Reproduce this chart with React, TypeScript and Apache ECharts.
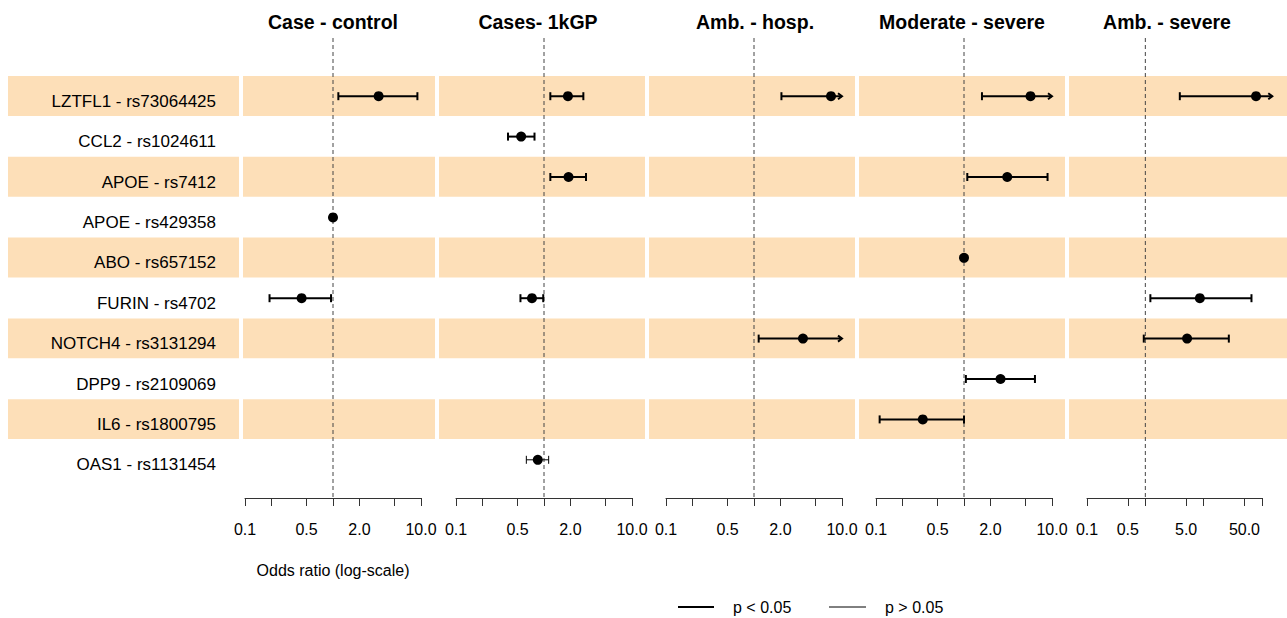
import React, { useEffect, useRef } from "react";
import * as echarts from "echarts";

// ---------- data ----------
const rowLabels = [
  "LZTFL1 - rs73064425",
  "CCL2 - rs1024611",
  "APOE - rs7412",
  "APOE - rs429358",
  "ABO - rs657152",
  "FURIN - rs4702",
  "NOTCH4 - rs3131294",
  "DPP9 - rs2109069",
  "IL6 - rs1800795",
  "OAS1 - rs1131454",
];

const panelTitles = ["Case - control", "Cases- 1kGP", "Amb. - hosp.", "Moderate - severe", "Amb. - severe"];

// Case - control
const orCaseControl = [3.3, null, null, 1.0, null, 0.44, null, null, null, null];
const lowCaseControl = [1.15, null, null, 0.98, null, 0.19, null, null, null, null];
const highCaseControl = [9.1, null, null, 1.02, null, 0.95, null, null, null, null];
const sigCaseControl = [true, null, null, true, null, true, null, null, null, null];

// Cases - 1kGP
const orCases1kGP = [1.87, 0.55, 1.9, null, null, 0.73, null, null, null, 0.85];
const lowCases1kGP = [1.18, 0.39, 1.18, null, null, 0.54, null, null, null, 0.63];
const highCases1kGP = [2.8, 0.78, 3.0, null, null, 0.98, null, null, null, 1.13];
const sigCases1kGP = [true, true, true, null, null, true, null, null, null, false];

// Amb. - hosp.
const orAmbHosp = [7.5, null, null, null, null, null, 3.6, null, null, null];
const lowAmbHosp = [2.05, null, null, null, null, null, 1.13, null, null, null];
const highAmbHosp = [30, null, null, null, null, null, 12, null, null, null];
const sigAmbHosp = [true, null, null, null, null, null, true, null, null, null];

// Moderate - severe
const orModSevere = [5.7, null, 3.1, null, 1.0, null, null, 2.6, 0.34, null];
const lowModSevere = [1.6, null, 1.09, null, 0.98, null, null, 1.05, 0.11, null];
const highModSevere = [20, null, 8.9, null, 1.02, null, null, 6.4, 1.0, null];
const sigModSevere = [true, null, true, null, true, null, null, true, true, null];

// Amb. - severe
const orAmbSevere = [79, null, null, null, null, 8.6, 5.2, null, null, null];
const lowAmbSevere = [3.9, null, null, null, null, 1.22, 0.94, null, null, null];
const highAmbSevere = [800, null, null, null, null, 66, 27, null, null, null];
const sigAmbSevere = [true, null, null, null, null, true, true, null, null, null];

// axis ticks / labels
const ticksNarrow = [0.1, 0.2, 0.5, 1, 2, 5, 10];
const tickLabelsNarrow = [0.1, 0.5, 2, 10];
const ticksWide = [0.1, 0.5, 1, 5, 10, 50, 100];
const tickLabelsWide = [0.1, 0.5, 5, 50];

const axisMaxes = [10, 10, 10, 10, 100];
const clipMaxes = [10, 10, 10, 10, 150];

const legendLabels = ["p < 0.05", "p > 0.05"];
const xAxisTitle = "Odds ratio (log-scale)";

// ---------- layout ----------
const FONT = "'Liberation Sans', Arial, Helvetica, sans-serif";
const BAND = "#FDDFB8";
const PANEL_LEFT = [245, 456, 666, 876, 1087];
const PANEL_WIDTH = [176, 176, 176, 176, 175];
const BAND_PAD_L = [2, 17, 17, 17, 18];
const BAND_PAD_R = [14, 13, 13, 13, 25];
const TITLE_X = [333, 538, 755, 962, 1167];
const GRID_TOP = 76;
const GRID_H = 404;

const panels = [
  { or: orCaseControl, lo: lowCaseControl, hi: highCaseControl, sig: sigCaseControl, ticks: ticksNarrow, labels: tickLabelsNarrow },
  { or: orCases1kGP, lo: lowCases1kGP, hi: highCases1kGP, sig: sigCases1kGP, ticks: ticksNarrow, labels: tickLabelsNarrow },
  { or: orAmbHosp, lo: lowAmbHosp, hi: highAmbHosp, sig: sigAmbHosp, ticks: ticksNarrow, labels: tickLabelsNarrow },
  { or: orModSevere, lo: lowModSevere, hi: highModSevere, sig: sigModSevere, ticks: ticksNarrow, labels: tickLabelsNarrow },
  { or: orAmbSevere, lo: lowAmbSevere, hi: highAmbSevere, sig: sigAmbSevere, ticks: ticksWide, labels: tickLabelsWide },
];

function buildOption() {
  const grids: any[] = [];
  const xAxes: any[] = [];
  const yAxes: any[] = [];
  const series: any[] = [];
  const nRows = rowLabels.length;

  panels.forEach((p, i) => {
    grids.push({
      left: PANEL_LEFT[i],
      top: GRID_TOP,
      width: PANEL_WIDTH[i],
      height: GRID_H,
      containLabel: false,
      outerBoundsMode: "none",
    });
    xAxes.push({
      gridIndex: i,
      type: "log",
      logBase: 10,
      min: 0.1,
      max: axisMaxes[i],
      position: "bottom",
      offset: 18,
      splitLine: { show: false },
      minorTick: { show: false },
      axisLine: { show: true, onZero: false, lineStyle: { color: "#333", width: 1 } },
      axisTick: { show: true, customValues: p.ticks, length: 8, lineStyle: { color: "#333", width: 1 } },
      axisLabel: {
        customValues: p.labels,
        formatter: (v: any) => Number(v).toFixed(1),
        fontSize: 16,
        color: "#000",
        margin: 23,
        fontFamily: FONT,
        hideOverlap: false,
      },
      name: i === 0 ? xAxisTitle : "",
      nameLocation: "middle",
      nameGap: 64,
      nameTextStyle: { fontSize: 16, color: "#000", fontFamily: FONT },
    });
    yAxes.push({
      gridIndex: i,
      type: "category",
      data: rowLabels,
      inverse: true,
      z: 10,
      axisLine: { show: false },
      axisTick: { show: false },
      splitLine: { show: false },
      axisLabel:
        i === 0
          ? {
              show: true,
              interval: 0,
              margin: 29,
              fontSize: 17,
              color: "#000",
              fontFamily: FONT,
              formatter: (v: string) => `{a|${v}}`,
              rich: { a: { fontSize: 17, color: "#000", fontFamily: FONT, padding: [10, 0, 0, 0] } },
            }
          : { show: false },
    });

    const padL = BAND_PAD_L[i];
    const padR = BAND_PAD_R[i];
    const withLabelBand = i === 0;
    // shaded row bands
    series.push({
      type: "custom",
      xAxisIndex: i,
      yAxisIndex: i,
      silent: true,
      z: 1,
      data: rowLabels.map((_, r) => [1, r]).filter((d) => d[1] % 2 === 0),
      renderItem: (params: any, api: any) => {
        const cs = params.coordSys;
        const row = api.value(1);
        const c = api.coord([1, row]);
        const h = cs.height / nRows;
        const y = c[1] - h / 2;
        const children: any[] = [
          { type: "rect", shape: { x: cs.x - padL, y, width: cs.width + padL + padR, height: h - 0.5 }, style: { fill: BAND } },
        ];
        if (withLabelBand) {
          children.push({ type: "rect", shape: { x: cs.x - 237, y, width: 231, height: h - 0.5 }, style: { fill: BAND } });
        }
        return { type: "group", children };
      },
    });
    // reference line at OR = 1
    series.push({
      type: "custom",
      xAxisIndex: i,
      yAxisIndex: i,
      silent: true,
      z: 2,
      data: [[1, 0]],
      renderItem: (params: any, api: any) => {
        const cs = params.coordSys;
        const c = api.coord([1, 0]);
        return {
          type: "line",
          shape: { x1: c[0], y1: cs.y - 38, x2: c[0], y2: cs.y + cs.height + 18 },
          style: { stroke: "#444", lineWidth: 1, lineDash: [4, 3] },
        };
      },
    });
    // confidence intervals
    const clipMax = clipMaxes[i];
    const ciData: any[] = [];
    p.or.forEach((v, r) => {
      if (v != null) ciData.push([p.lo[r], p.hi[r], r, p.sig[r] ? 1 : 0]);
    });
    series.push({
      type: "custom",
      xAxisIndex: i,
      yAxisIndex: i,
      silent: true,
      z: 3,
      encode: { x: [0, 1], y: 2 },
      data: ciData,
      renderItem: (params: any, api: any) => {
        const lo = api.value(0);
        const hi = api.value(1);
        const row = api.value(2);
        const sig = api.value(3);
        const arrow = hi > clipMax;
        const hiC = Math.min(hi, clipMax);
        const p1 = api.coord([lo, row]);
        const p2 = api.coord([hiC, row]);
        const lw = sig ? 2 : 1;
        const st = { stroke: "#000", lineWidth: lw, fill: "none" };
        const y = p1[1];
        const children: any[] = [
          { type: "line", shape: { x1: p1[0], y1: y, x2: p2[0], y2: y }, style: st },
          { type: "line", shape: { x1: p1[0], y1: y - 4, x2: p1[0], y2: y + 4 }, style: st },
        ];
        if (arrow) {
          children.push({
            type: "polyline",
            shape: { points: [[p2[0] - 4, y - 3], [p2[0], y], [p2[0] - 4, y + 3]] },
            style: st,
          });
        } else {
          children.push({ type: "line", shape: { x1: p2[0], y1: y - 4, x2: p2[0], y2: y + 4 }, style: st });
        }
        return { type: "group", children };
      },
    });
    // point estimates
    const ptData: any[] = [];
    p.or.forEach((v, r) => {
      if (v != null) ptData.push([v, r]);
    });
    series.push({
      type: "scatter",
      xAxisIndex: i,
      yAxisIndex: i,
      silent: true,
      z: 4,
      symbol: "circle",
      symbolSize: 10,
      itemStyle: { color: "#000", opacity: 1 },
      data: ptData,
    });
  });

  const graphics: any[] = panelTitles.map((t, i) => ({
    type: "text",
    x: TITLE_X[i],
    y: 22,
    style: {
      text: t,
      font: `bold 19.5px ${FONT}`,
      fill: "#000",
      textAlign: "center",
      textVerticalAlign: "middle",
    },
  }));
  graphics.push(
    { type: "line", shape: { x1: 678, y1: 607, x2: 714, y2: 607 }, style: { stroke: "#000", lineWidth: 2 } },
    { type: "text", x: 733, y: 607, style: { text: legendLabels[0], font: `16px ${FONT}`, fill: "#000", textAlign: "left", textVerticalAlign: "middle" } },
    { type: "line", shape: { x1: 829, y1: 607, x2: 866, y2: 607 }, style: { stroke: "#000", lineWidth: 1 } },
    { type: "text", x: 885, y: 607, style: { text: legendLabels[1], font: `16px ${FONT}`, fill: "#000", textAlign: "left", textVerticalAlign: "middle" } }
  );

  return {
    animation: false,
    backgroundColor: "#fff",
    textStyle: { fontFamily: FONT },
    grid: grids,
    xAxis: xAxes,
    yAxis: yAxes,
    series,
    graphic: graphics,
  };
}

export default function App() {
  const ref = useRef<HTMLDivElement>(null);
  useEffect(() => {
    if (!ref.current) return;
    const chart = echarts.init(ref.current, null, { renderer: "svg" });
    chart.setOption(buildOption() as any);
    return () => chart.dispose();
  }, []);
  return (
    <div
      ref={ref}
      style={{ position: "absolute", left: 0, top: 0, width: 1287, height: 618, background: "#fff" }}
    />
  );
}
